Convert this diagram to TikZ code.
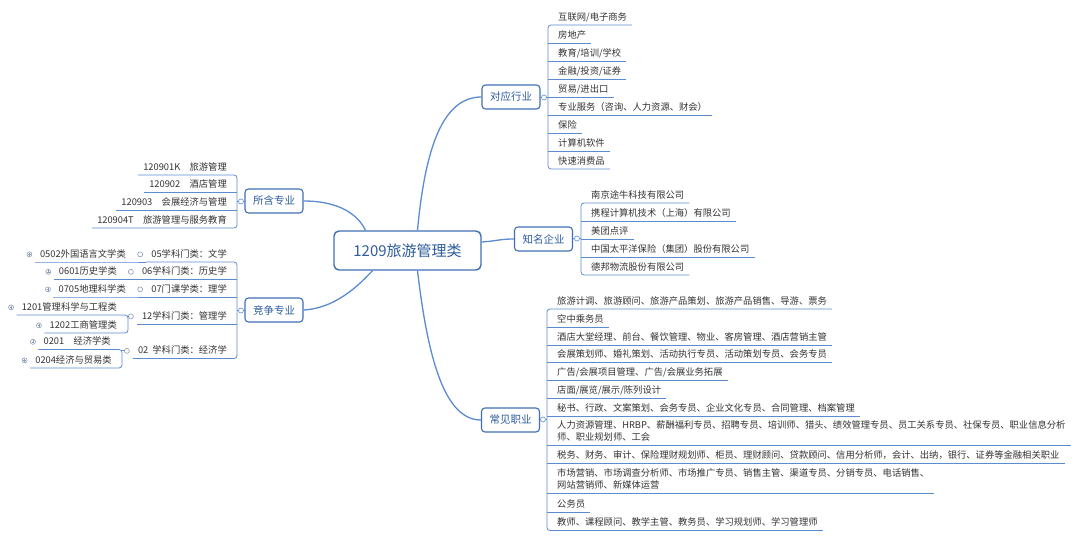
\documentclass[tikz,border=0pt]{standalone}
\usepackage{fontspec}
\setmainfont{Noto Sans CJK SC}
\usetikzlibrary{calc}
\definecolor{lc}{HTML}{5B8BD0}
\definecolor{bc}{HTML}{3F6FB5}
\definecolor{tc}{HTML}{2E5C9E}
\definecolor{ic}{HTML}{333333}
\definecolor{kc}{HTML}{8A9BB5}
\begin{document}
\begin{tikzpicture}[x=1pt,y=-1pt,
  ul/.style={draw=lc, line width=0.8pt},
  mainc/.style={draw=lc, line width=1.3pt},
  ctrbox/.style={draw=bc, line width=1.4pt, rounded corners=5pt, fill=white, text=tc,
    font=\fontsize{15}{18}\selectfont, minimum width=147pt, minimum height=39pt, inner sep=0pt},
  brbox/.style={draw=bc, line width=1.1pt, rounded corners=3.5pt, fill=white, text=tc,
    font=\fontsize{10.5}{12}\selectfont, minimum width=58pt, minimum height=24pt, inner sep=0pt},
  itemR/.style={anchor=south west, inner xsep=5pt, inner ysep=2.5pt, text depth=2pt,
    text=ic, font=\fontsize{9.3}{12}\selectfont},
  itemL/.style={itemR, anchor=south east},
  knob/.style={circle, draw=lc, fill=white, line width=0.6pt, minimum size=5pt, inner sep=0pt},
  pknob/.style={circle, draw=kc, fill=white, line width=0.6pt, minimum size=5pt, inner sep=0pt,
    path picture={\draw[kc, line width=0.5pt]
      ($(path picture bounding box.center)+(-1.4,0)$) -- ($(path picture bounding box.center)+(1.4,0)$)
      ($(path picture bounding box.center)+(0,-1.4)$) -- ($(path picture bounding box.center)+(0,1.4)$);}}
]
\fill[white] (0,0) rectangle (1080,540);
\useasboundingbox (0,0) rectangle (1080,540);

% ---------- central and branch nodes ----------
\node[ctrbox] (ctr) at (407.5,250.5) {1209旅游管理类};
\node[brbox] (bA) at (511,97) {对应行业};
\node[brbox] (bB) at (543.5,239) {知名企业};
\node[brbox] (bC) at (510.5,420) {常见职业};
\node[brbox] (bS) at (274,201) {所含专业};
\node[brbox] (bJ) at (274,310) {竞争专业};

\draw[mainc] ([xshift=10pt]ctr.north) .. controls (425,150) and (442,97) .. (bA.west);
\draw[mainc] ([yshift=8.5pt]ctr.east) .. controls (497,241) and (500,239) .. (bB.west);
\draw[mainc] ([xshift=10pt]ctr.south) .. controls (428,360) and (445,420) .. (bC.west);
\draw[mainc] ([xshift=-42pt]ctr.north) .. controls (358,215) and (340,201) .. (bS.east);
\draw[mainc] ([xshift=-35pt]ctr.south) .. controls (365,278) and (340,308) .. (bJ.east);

% ---------- group A: 对应行业 ----------
\node[knob] (kA) at (544,97.5) {};
\coordinate (spA) at (548,0);
\node[itemR] (a1) at (553,25) {互联网/电子商务};
\node[itemR] (a2) at (553,43) {房地产};
\node[itemR] (a3) at (553,61) {教育/培训/学校};
\node[itemR] (a4) at (553,79) {金融/投资/证券};
\node[itemR] (a5) at (553,97.5) {贸易/进出口};
\node[itemR] (a6) at (553,115.5) {专业服务（咨询、人力资源、财会）};
\node[itemR] (a7) at (553,133) {保险};
\node[itemR] (a8) at (553,151) {计算机软件};
\node[itemR] (a9) at (553,169) {快速消费品};
\draw[ul, rounded corners=3pt] (a1.south east) -- (spA |- a1.south) -- (spA |- a9.south) -- (a9.south east);
\foreach \n in {2,...,8} \draw[ul] (spA |- a\n.south) -- (a\n.south east);
\draw[ul] (bA.east) -- (kA.west);
\draw[ul] (kA.east) -- (spA |- kA);

% ---------- group B: 知名企业 ----------
\node[knob] (kB) at (577,238.5) {};
\coordinate (spB) at (581,0);
\node[itemR] (b1) at (586,203) {南京途牛科技有限公司};
\node[itemR] (b2) at (586,221) {携程计算机技术（上海）有限公司};
\node[itemR] (b3) at (586,239) {美团点评};
\node[itemR] (b4) at (586,257) {中国太平洋保险（集团）股份有限公司};
\node[itemR] (b5) at (586,275) {德邦物流股份有限公司};
\draw[ul, rounded corners=3pt] (b1.south east) -- (spB |- b1.south) -- (spB |- b5.south) -- (b5.south east);
\foreach \n in {2,...,4} \draw[ul] (spB |- b\n.south) -- (b\n.south east);
\draw[ul] (bB.east) -- (kB.west);
\draw[ul] (kB.east) -- (spB |- kB);

% ---------- group C: 常见职业 ----------
\node[knob] (kC) at (543,419.5) {};
\coordinate (spC) at (547,0);
\node[itemR] (c1) at (552,309) {旅游计调、旅游顾问、旅游产品策划、旅游产品销售、导游、票务};
\node[itemR] (c2) at (552,327) {空中乘务员};
\node[itemR] (c3) at (552,345) {酒店大堂经理、前台、餐饮管理、物业、客房管理、酒店营销主管};
\node[itemR] (c4) at (552,362.5) {会展策划师、婚礼策划、活动执行专员、活动策划专员、会务专员};
\node[itemR] (c5) at (552,380.5) {广告/会展项目管理、广告/会展业务拓展};
\node[itemR] (c6) at (552,398.5) {店面/展览/展示/陈列设计};
\node[itemR] (c7) at (552,416) {秘书、行政、文案策划、会务专员、企业文化专员、合同管理、档案管理};
\node[itemR] (c8) at (552,445) {\begin{tabular}[b]{@{}l@{}}人力资源管理、HRBP、薪酬福利专员、招聘专员、培训师、猎头、绩效管理专员、员工关系专员、社保专员、职业信息分析\\师、职业规划师、工会\end{tabular}};
\node[itemR] (c9) at (552,463.5) {税务、财务、审计、保险理财规划师、柜员、理财顾问、贷款顾问、信用分析师，会计、出纳，银行、证券等金融相关职业};
\node[itemR] (c10) at (552,493.5) {\begin{tabular}[b]{@{}l@{}}市场营销、市场调查分析师、市场推广专员、销售主管、渠道专员、分销专员、电话销售、\\网站营销师、新媒体运营\end{tabular}};
\node[itemR] (c11) at (552,512) {公务员};
\node[itemR] (c12) at (552,530.5) {教师、课程顾问、教学主管、教务员、学习规划师、学习管理师};
\draw[ul, rounded corners=3pt] (c1.south east) -- (spC |- c1.south) -- (spC |- c12.south) -- (c12.south east);
\foreach \n in {2,...,11} \draw[ul] (spC |- c\n.south) -- (c\n.south east);
\draw[ul] (bC.east) -- (kC.west);
\draw[ul] (kC.east) -- (spC |- kC);

% ---------- group S: 所含专业 ----------
\node[knob] (kS) at (241,201.5) {};
\coordinate (spS) at (237,0);
\node[itemL] (s1) at (232,175) {120901K　旅游管理};
\node[itemL] (s2) at (232,192.5) {120902　酒店管理};
\node[itemL] (s3) at (232,210) {120903　会展经济与管理};
\node[itemL] (s4) at (232,228) {120904T　旅游管理与服务教育};
\draw[ul, rounded corners=3pt] (s1.south west) -- (spS |- s1.south) -- (spS |- s4.south) -- (s4.south west);
\foreach \n in {2,3} \draw[ul] (spS |- s\n.south) -- (s\n.south west);
\draw[ul] (bS.west) -- (kS.east);
\draw[ul] (kS.west) -- (spS |- kS);

% ---------- group J: 竞争专业 ----------
\node[knob] (kJ) at (241,310.5) {};
\coordinate (spJ) at (237,0);
\node[itemL] (j1) at (232,262) {05学科门类：文学};
\node[itemL] (j2) at (232,279.5) {06学科门类：历史学};
\node[itemL] (j3) at (232,297) {07门课学类：理学};
\node[itemL] (j4) at (232,324) {12学科门类：管理学};
\node[itemL] (j5) at (232,358.5) {02\hspace{4pt}学科门类：经济学};
\draw[ul, rounded corners=3pt] (j1.south west) -- (spJ |- j1.south) -- (spJ |- j5.south) -- (j5.south west);
\foreach \n in {2,3,4} \draw[ul] (spJ |- j\n.south) -- (j\n.south west);
\draw[ul] (bJ.west) -- (kJ.east);
\draw[ul] (kJ.west) -- (spJ |- kJ);

% level-2 knobs
\node[knob, draw=kc] (kj1) at ([xshift=-6pt]j1.west) {};
\node[knob, draw=kc] (kj2) at ([xshift=-6pt]j2.west) {};
\node[knob, draw=kc] (kj3) at ([xshift=-6pt]j3.west) {};
\node[knob, draw=kc] (kj4) at ([xshift=-6pt]j4.west) {};
\node[knob, draw=kc] (kj5) at ([xshift=-6pt]j5.west) {};

% level-3 items
\node[itemL] (d1) at (131,262) {0502外国语言文学类};
\node[itemL] (d2) at (122,279.5) {0601历史学类};
\node[itemL] (d3) at (131,297) {0705地理科学类};
\node[itemL] (d4) at (122,315) {1201管理科学与工程类};
\node[itemL] (d5) at (122,333) {1202工商管理类};
\node[itemL] (d6) at (116,349.5) {0201　经济学类};
\node[itemL] (d7) at (117,368) {0204经济与贸易类};

\draw[ul] (d1.south west) -- (d1.south east) -- (j1.south west);
\draw[ul] (d2.south west) -- (d2.south east) -- (j2.south west);
\draw[ul] (d3.south west) -- (d3.south east) -- (j3.south west);
\coordinate (sp4) at (128,0);
\draw[ul, rounded corners=3pt] (d4.south west) -- (sp4 |- d4.south) -- (sp4 |- d5.south) -- (d5.south west);
\draw[ul] (kj4.west) -- (sp4 |- kj4);
\coordinate (sp5) at (122,0);
\draw[ul, rounded corners=3pt] (d6.south west) -- (sp5 |- d6.south) -- (sp5 |- d7.south) -- (d7.south west);
\draw[ul] (kj5.west) -- (sp5 |- kj5);

% collapsed markers
\foreach \n in {1,...,7} \node[pknob] (p\n) at ([xshift=-5.5pt]d\n.west) {};
\end{tikzpicture}
\end{document}
